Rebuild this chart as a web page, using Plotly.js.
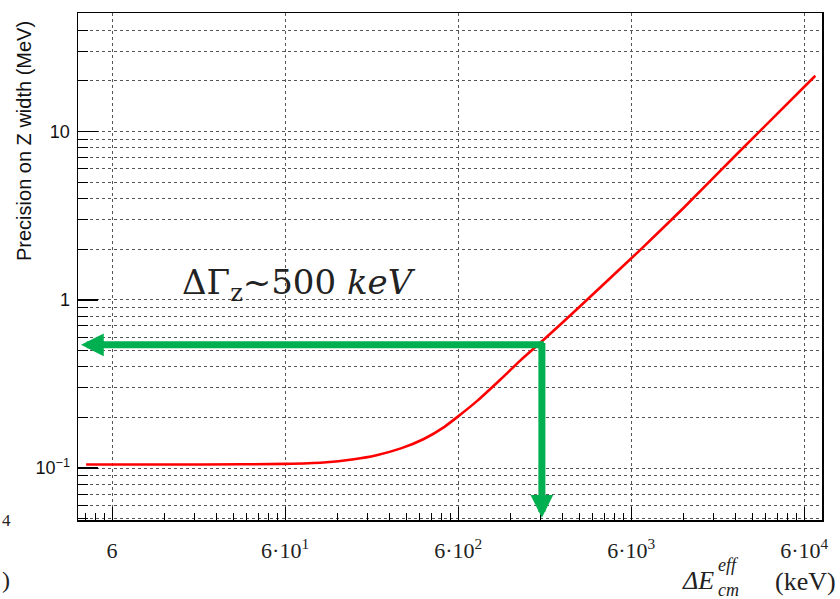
<!DOCTYPE html>
<html>
<head>
<meta charset="utf-8">
<script src="https://cdn.plot.ly/plotly-3.0.1.min.js"></script>
<style>html,body{margin:0;padding:0;background:#fff;}#chart{width:840px;height:599px;}</style>
</head>
<body>
<div id="chart"></div>
<script>
// ---- data ----
const energyKeV = [4.25, 20, 60, 100, 150, 200, 280, 380, 500, 600, 770, 1050, 1370, 1790, 3040, 6770, 12030, 24500, 69500];
const precisionMeV = [0.105, 0.105, 0.106, 0.108, 0.113, 0.119, 0.131, 0.149, 0.176, 0.203, 0.250, 0.335, 0.435, 0.555, 0.915, 1.98, 3.51, 7.34, 21.4];

const xTickVals = [6, 60, 600, 6000, 60000];
const xTickText = ['6', '6·10<sup>1</sup>', '6·10<sup>2</sup>', '6·10<sup>3</sup>', '6·10<sup>4</sup>'];
const yTickVals = [0.1, 1, 10];
const yTickText = ['10<sup>−1</sup>', '1', '10'];

// working point marked by the green arrows
const markEnergyKeV = 1828;
const markPrecisionMeV = 0.54;
const arrowLeftEndKeV = 3.97;
const arrowBottomEndMeV = 0.0507;

const xRange = [3.815, 75950];
const yRange = [0.0492, 50.5];

// minor ticks (ROOT style: 6·k·10^n on x, k·10^n on y)
const xMinor = [];
for (let n = -1; n <= 4; n++) for (let k = 2; k <= 9; k++) {
  const v = 6 * k * Math.pow(10, n) / 10;
  if (v > xRange[0] && v < xRange[1] && xTickVals.indexOf(v) < 0) xMinor.push(v);
}
const yMinor = [];
for (let n = -2; n <= 1; n++) for (let k = 2; k <= 9; k++) {
  const v = k * Math.pow(10, n);
  if (v >= yRange[0] && v <= yRange[1]) yMinor.push(v);
}

const L = Math.log10;
// plot area in pixels: x 78..822, y 13..520
const px = p => (p - 78) / 744;
const py = p => (520 - p) / 507;

const green = '#00B050';

const trace = {
  x: energyKeV, y: precisionMeV, type: 'scatter', mode: 'lines',
  line: {color: '#ff0000', width: 2.6, shape: 'spline', smoothing: 0.5}, hoverinfo: 'skip'
};

const gridCol = '#555';
const layout = {
  width: 840, height: 599,
  margin: {l: 78, r: 18, t: 13, b: 79},
  paper_bgcolor: '#fff', plot_bgcolor: '#fff',
  showlegend: false,
  xaxis: {
    type: 'log', range: [L(xRange[0]), L(xRange[1])],
    tickmode: 'array', tickvals: xTickVals, ticktext: xTickText,
    ticks: 'inside', ticklen: 13, tickwidth: 1, tickcolor: '#000',
    showline: true, linecolor: '#000', linewidth: 1.5, mirror: true,
    showgrid: true, gridcolor: gridCol, griddash: 'dot', gridwidth: 1,
    zeroline: false, ticklabelstandoff: 10,
    tickfont: {family: 'Liberation Serif', size: 22, color: '#222'},
    minor: {tickmode: 'array', tickvals: xMinor, ticks: 'inside', ticklen: 7, tickwidth: 1, tickcolor: '#000', showgrid: false}
  },
  yaxis: {
    type: 'log', range: [L(yRange[0]), L(yRange[1])],
    tickmode: 'array', tickvals: yTickVals, ticktext: yTickText,
    ticks: 'inside', ticklen: 20, tickwidth: 1.5, tickcolor: '#000',
    showline: true, linecolor: '#000', linewidth: 1.5, mirror: true,
    showgrid: true, gridcolor: gridCol, griddash: 'dot', gridwidth: 1,
    zeroline: false, ticklabelstandoff: 3,
    tickfont: {family: 'Liberation Sans', size: 18, color: '#111'},
    minor: {tickmode: 'array', tickvals: yMinor, ticks: 'inside', ticklen: 10, tickwidth: 1, tickcolor: '#000',
            showgrid: true, gridcolor: gridCol, griddash: 'dot', gridwidth: 1}
  },
  annotations: [
    // horizontal arrow (pointing left)
    {xref: 'x', yref: 'y', axref: 'x', ayref: 'y',
     x: L(arrowLeftEndKeV), y: L(markPrecisionMeV), ax: L(markEnergyKeV) + 0.02, ay: L(markPrecisionMeV),
     text: '', showarrow: true, arrowhead: 2, arrowsize: 0.65, arrowwidth: 7, arrowcolor: green},
    // vertical arrow (pointing down)
    {xref: 'x', yref: 'y', axref: 'x', ayref: 'y',
     x: L(markEnergyKeV), y: L(arrowBottomEndMeV), ax: L(markEnergyKeV), ay: L(markPrecisionMeV) + 0.02,
     text: '', showarrow: true, arrowhead: 2, arrowsize: 0.65, arrowwidth: 7, arrowcolor: green},
    // label
    {xref: 'paper', yref: 'paper', x: px(180), y: py(284), xanchor: 'left', yanchor: 'middle',
     text: 'ΔΓ<sub>z</sub>~500 <i>keV</i>', showarrow: false,
     font: {family: 'DejaVu Serif', size: 34, color: '#222'}},
    // y-axis title
    {xref: 'paper', yref: 'paper', x: px(24), y: py(141), xanchor: 'center', yanchor: 'middle',
     text: 'Precision on Z width (MeV)', textangle: -90, showarrow: false,
     font: {family: 'Liberation Sans', size: 20, color: '#111'}},
    // x-axis title pieces
    {xref: 'paper', yref: 'paper', x: px(716), y: py(580), xanchor: 'right', yanchor: 'middle',
     text: '<i>ΔE</i>', showarrow: false, font: {family: 'Liberation Serif', size: 26, color: '#222'}},
    {xref: 'paper', yref: 'paper', x: px(716), y: py(565), xanchor: 'left', yanchor: 'middle',
     text: '<i>eff</i>', showarrow: false, font: {family: 'Liberation Serif', size: 18, color: '#222'}},
    {xref: 'paper', yref: 'paper', x: px(716), y: py(590), xanchor: 'left', yanchor: 'middle',
     text: '<i>cm</i>', showarrow: false, font: {family: 'Liberation Serif', size: 18, color: '#222'}},
    {xref: 'paper', yref: 'paper', x: px(838), y: py(581), xanchor: 'right', yanchor: 'middle',
     text: '(keV)', showarrow: false, font: {family: 'Liberation Serif', size: 26, color: '#222'}},
    // fragments of the neighbouring figure at the left edge
    {xref: 'paper', yref: 'paper', x: px(0), y: py(520), xanchor: 'left', yanchor: 'middle',
     text: '4', showarrow: false, font: {family: 'Liberation Serif', size: 17, color: '#222'}},
    {xref: 'paper', yref: 'paper', x: px(0), y: py(580), xanchor: 'left', yanchor: 'middle',
     text: ')', showarrow: false, font: {family: 'Liberation Serif', size: 24, color: '#222'}}
  ]
};

Plotly.newPlot('chart', [trace], layout, {displayModeBar: false, staticPlot: true});
</script>
</body>
</html>
